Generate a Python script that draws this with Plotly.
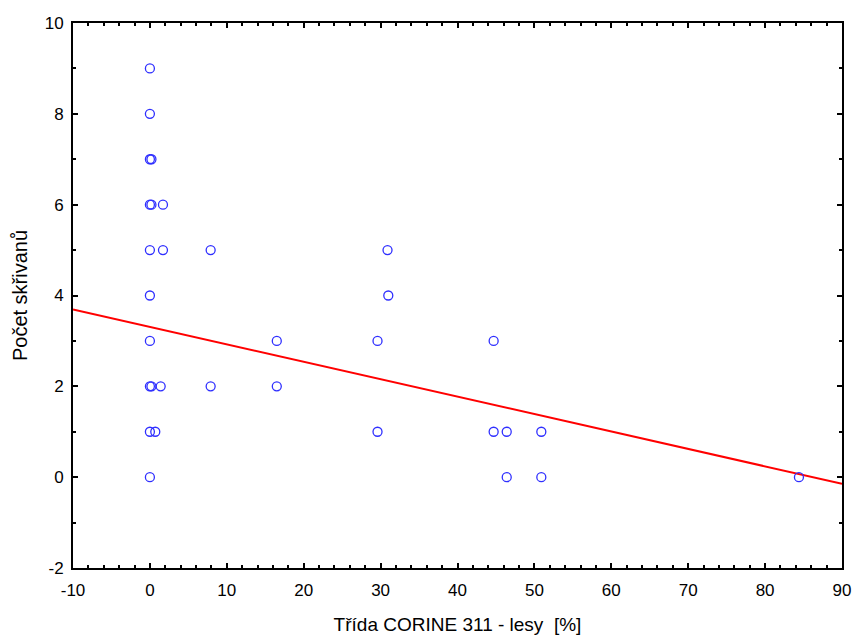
import plotly.graph_objects as go

# Data
lesy_pct = [0, 0, 0, 0.2, 0, 0.2, 1.7, 0, 1.7, 7.9, 30.9, 0, 31.0,
            0, 16.5, 29.6, 44.7, 0, 0.2, 1.4, 7.9, 16.5,
            0, 0.7, 29.6, 44.7, 46.4, 50.9, 0, 46.4, 50.9, 84.4]
pocet = [9, 8, 7, 7, 6, 6, 6, 5, 5, 5, 5, 4, 4,
         3, 3, 3, 3, 2, 2, 2, 2, 2,
         1, 1, 1, 1, 1, 1, 0, 0, 0, 0]

# Regression line parameters
fit_intercept = 3.31
fit_slope = -0.0384
fit_x = [-10, 90]
fit_y = [fit_intercept + fit_slope * v for v in fit_x]

x_ticks = [-10, 0, 10, 20, 30, 40, 50, 60, 70, 80, 90]
x_tick_labels = ["-10", "0", "10", "20", "30", "40", "50", "60", "70", "80", "90"]
y_ticks = [-2, 0, 2, 4, 6, 8, 10]
y_tick_labels = ["-2", "0", "2", "4", "6", "8", "10"]

FONT = "Liberation Sans, Arial, sans-serif"

fig = go.Figure()
fig.add_trace(go.Scatter(
    x=fit_x, y=fit_y, mode="lines",
    line=dict(color="#ff0000", width=2), hoverinfo="skip", showlegend=False))
fig.add_trace(go.Scatter(
    x=lesy_pct, y=pocet, mode="markers",
    marker=dict(symbol="circle-open", size=9, color="#2f2fff", line=dict(width=1.3)),
    showlegend=False))

axis_common = dict(
    showline=True, linecolor="black", linewidth=2, mirror="allticks",
    ticks="inside", ticklen=5, tickwidth=2, tickcolor="black",
    showgrid=False, zeroline=False, automargin=False,
    tickfont=dict(family=FONT, size=17, color="black"),
    minor=dict(ticks="inside", ticklen=3, tickwidth=1.5, tickcolor="black", showgrid=False),
)

fig.update_xaxes(range=[-10, 90], tickvals=x_ticks, ticktext=x_tick_labels, minor_dtick=2,
                 ticklabelstandoff=6,
                 title=dict(text="Třída CORINE 311 - lesy  [%]",
                            font=dict(family=FONT, size=19, color="black"),
                            standoff=18),
                 **axis_common)
fig.update_yaxes(range=[-2, 10], tickvals=y_ticks, ticktext=y_tick_labels, minor_dtick=1,
                 ticklabelstandoff=4,
                 title=dict(text="Počet skřivanů",
                            font=dict(family=FONT, size=20, color="black"),
                            standoff=12),
                 **axis_common)

fig.update_layout(
    width=855, height=640,
    margin=dict(l=73, r=13, t=23, b=72),
    plot_bgcolor="white", paper_bgcolor="white",
    showlegend=False,
)

fig.write_html("out.html", config={"displayModeBar": False},
               post_script="document.body.style.margin='0';document.body.style.overflow='hidden';")
